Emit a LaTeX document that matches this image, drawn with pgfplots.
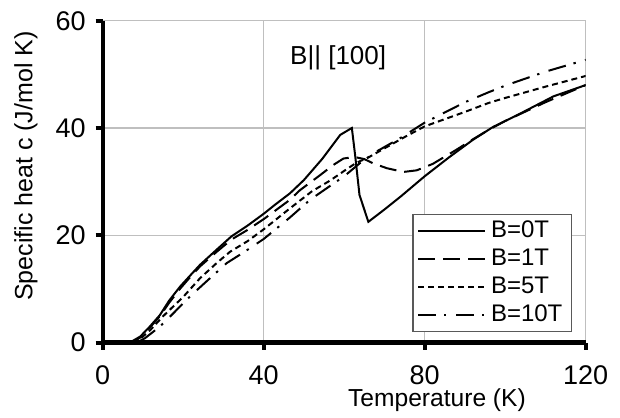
\documentclass[border=0pt]{standalone}
\usepackage{fontspec}
\setmainfont{Liberation Sans}
\usepackage{pgfplots}
\pgfplotsset{compat=1.18}
\begin{document}
\begin{tikzpicture}
\begin{axis}[
  at={(51.35pt,37.25pt)}, anchor=south west,
  scale only axis, width=241.5pt, height=160.9pt,
  xmin=0, xmax=120, ymin=0, ymax=60,
  xtick={0,40,80,120}, ytick={0,20,40,60},
  axis x line*=bottom, axis y line*=left,
  axis line style={-, line width=2.2pt, black},
  grid=major, major grid style={black!25, line width=0.6pt},
  tick align=outside, major tick length=3.5pt,
  tick style={black, line width=2pt},
  /pgf/number format/assume math mode=true,
  ticklabel style={font=\fontsize{13.5}{16}\selectfont},
  xticklabel style={yshift=-4.5pt},
  yticklabel style={xshift=-1.5pt},
  xlabel={Temperature (K)},
  ylabel={Specific heat c (J/mol K)},
  xlabel style={font=\fontsize{12.3}{14}\selectfont, at={(axis description cs:0.692,-0.179)}, anchor=center},
  ylabel style={font=\fontsize{12.5}{15}\selectfont, at={(axis description cs:-0.159,0.548)}, anchor=center},
  legend style={at={(0.9716,0.0326)}, anchor=south east, draw=black!65, line width=0.6pt, fill=white,
    font=\fontsize{12}{14}\selectfont, inner xsep=2pt, inner ysep=1.25pt, row sep=0pt,
    nodes={inner xsep=2.5pt, inner ysep=1.5pt, text height=9pt, text depth=2pt}},
  legend cell align=left,
  legend image code/.code={\draw[#1] plot coordinates {(0pt,0pt) (33.5pt,0pt)};},
  every axis plot/.append style={line width=1pt, black, mark=none},
]
\addplot[solid] coordinates {
(0,0) (5,0) (7,0.1) (9.3,1.1) (11.5,2.8) (14.2,5.1) (16.5,7.8) (19.2,10.4) (21.5,12.3) (24.2,14.5)
(28.3,17.3) (32,19.8) (36,21.8) (40,24.0) (43,25.8) (46.5,27.8) (50,30.3) (54.5,34.2) (59,38.7)
(61.9,40.0) (62.7,35.0) (63.8,27.5) (66,22.5) (70,24.8) (74,27.2) (80,31.0) (86,34.5) (92,37.8)
(97,40.2) (103,42.4) (112,45.9) (120,48.0)};
\addlegendentry{B=0T}
\addplot[dash pattern=on 8.5pt off 4pt] coordinates {
(0,0) (6,0) (7.5,0.1) (9.5,1.0) (11.5,2.6) (14.2,4.9) (16.5,7.4) (19.2,10.0) (21.5,12.0) (24.2,14.2)
(28.3,16.9) (32,19.2) (36,21.0) (40,23.0) (46.5,26.6) (49,28.4) (54,31.2) (57.3,33.1) (59.8,34.3)
(62.5,34.6) (65,34.2) (67.2,33.4) (70.6,32.5) (74.7,31.8) (78,32.1) (82,33.3) (88,36.0) (92,37.9)
(96,39.7) (100,41.3) (110,44.8) (120,48.0)};
\addlegendentry{B=1T}
\addplot[dash pattern=on 3pt off 2pt] coordinates {
(0,0) (7,0) (8.5,0.2) (9.5,0.8) (11.8,2.3) (15,4.9) (20,8.5) (24.2,12.0) (28.3,14.8) (31.6,16.9)
(36,18.9) (40,21.1) (46.5,25.0) (52,28.2) (56.5,30.2) (60,32.0) (63,33.5) (66,34.5) (70,36.2)
(75,38.3) (80,40.3) (90,43.0) (96,44.7) (100,45.6) (110,47.7) (120,49.7)};
\addlegendentry{B=5T}
\addplot[dash pattern=on 9pt off 4pt on 1.2pt off 4.8pt] coordinates {
(0,0) (7.5,0) (9,0.2) (10.5,0.8) (13.4,2.5) (15.1,3.6) (19.2,6.7) (22,8.8) (25.5,11.2) (30.8,14.8)
(35,16.8) (40,19.3) (46.5,23.3) (51.5,26.6) (56.5,29.2) (60,31.0) (64,33.5) (68,35.6) (73.9,38.1)
(80,41.0) (90,44.8) (96,46.7) (100,47.9) (110,50.5) (120,52.7)};
\addlegendentry{B=10T}
\node[font=\fontsize{13}{15}\selectfont] at (axis cs:58.5,53) {B|| [100]};
\end{axis}
\pgfresetboundingbox
\path[use as bounding box] (0,0) rectangle (310pt,208.5pt);
\end{tikzpicture}
\end{document}
